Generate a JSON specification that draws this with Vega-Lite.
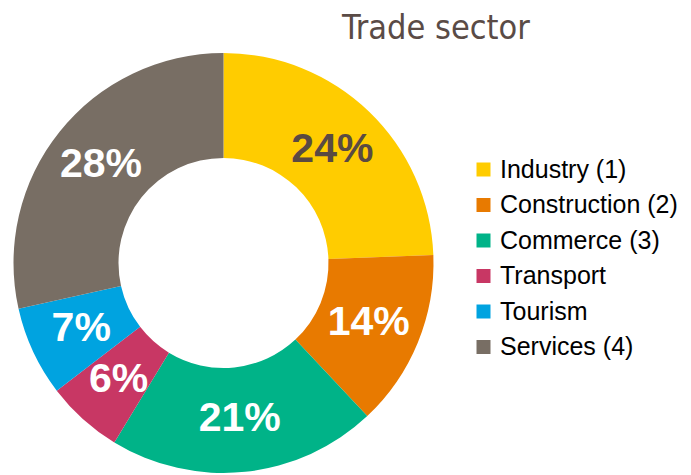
{
  "$schema": "https://vega.github.io/schema/vega-lite/v6.json",
  "width": 447,
  "height": 526,
  "autosize": "none",
  "padding": {"left": 0, "top": 0, "right": 244, "bottom": 0},
  "background": "white",
  "config": {"view": {"stroke": null}},
  "title": {
    "text": "Trade sector",
    "anchor": "start",
    "frame": "group",
    "dx": 342,
    "offset": -73,
    "baseline": "alphabetic",
    "font": "Liberation Sans Narrow, DejaVu Sans Condensed, Liberation Sans",
    "fontSize": 34,
    "fontWeight": "normal",
    "color": "#5a4b46"
  },
  "data": {
    "values": [
      {"sector": "Industry (1)", "value": 24.4, "label": "24%", "idx": 1},
      {"sector": "Construction (2)", "value": 13.6, "label": "14%", "idx": 2},
      {"sector": "Commerce (3)", "value": 20.7, "label": "21%", "idx": 3},
      {"sector": "Transport", "value": 5.9, "label": "6%", "idx": 4},
      {"sector": "Tourism", "value": 6.9, "label": "7%", "idx": 5},
      {"sector": "Services (4)", "value": 28.5, "label": "28%", "idx": 6}
    ]
  },
  "encoding": {
    "theta": {"field": "value", "type": "quantitative", "stack": true},
    "order": {"field": "idx", "type": "quantitative"}
  },
  "layer": [
    {
      "mark": {"type": "arc", "innerRadius": 105, "outerRadius": 210},
      "encoding": {
        "color": {
          "field": "sector",
          "type": "nominal",
          "sort": ["Industry (1)", "Construction (2)", "Commerce (3)", "Transport", "Tourism", "Services (4)"],
          "scale": {
            "domain": ["Industry (1)", "Construction (2)", "Commerce (3)", "Transport", "Tourism", "Services (4)"],
            "range": ["#FFCC00", "#E87A00", "#00B388", "#C83764", "#00A3E0", "#786E64"]
          },
          "legend": {
            "orient": "none",
            "legendX": 471,
            "legendY": 157,
            "title": null,
            "padding": 0,
            "symbolType": "square",
            "symbolSize": 196,
            "symbolStrokeWidth": 0,
            "labelFont": "Liberation Sans",
            "labelFontSize": 25,
            "labelColor": "#000000",
            "labelOffset": 4,
            "rowPadding": 9.5,
            "labelLimit": 300
          }
        }
      }
    },
    {
      "mark": {
        "type": "text",
        "radius": 157,
        "font": "Liberation Sans",
        "fontSize": 41,
        "fontWeight": "bold",
        "baseline": "middle",
        "align": "center"
      },
      "encoding": {
        "detail": {"field": "sector", "type": "nominal"},
        "text": {"field": "label", "type": "nominal"},
        "color": {
          "condition": {"test": "datum.sector === 'Industry (1)'", "value": "#5a4a42"},
          "value": "#ffffff"
        }
      }
    }
  ]
}
